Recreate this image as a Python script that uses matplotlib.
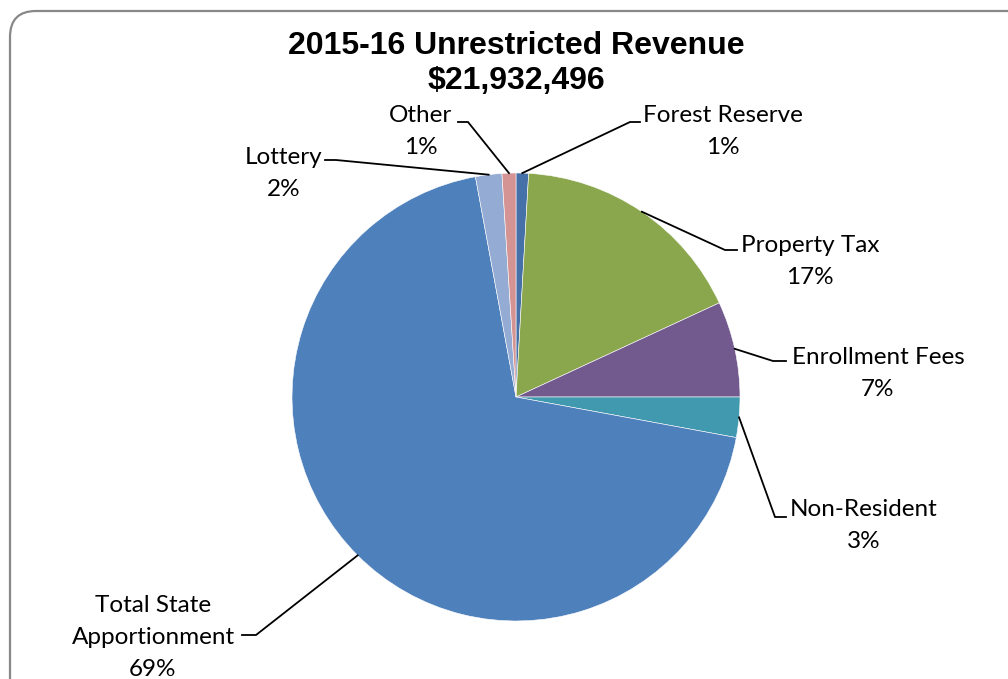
import matplotlib
matplotlib.use("Agg")
import matplotlib.pyplot as plt
from matplotlib.patches import FancyBboxPatch
import numpy as np

# slice data, clockwise from the top
sources = ["Forest Reserve", "Property Tax", "Enrollment Fees", "Non-Resident",
           "Total State\nApportionment", "Lottery", "Other"]
shares = [0.9, 17.2, 6.9, 2.9, 69.2, 1.9, 1.0]
pct_labels = ["1%", "17%", "7%", "3%", "69%", "2%", "1%"]
colors = ["#4571a8", "#8ba74e", "#725a8e", "#4099ae", "#4e80bc", "#94abd4", "#d39493"]

W, H = 1008, 679
fig = plt.figure(figsize=(W / 100, H / 100), dpi=100)
ax = fig.add_axes([0, 0, 1, 1])

cx, cy, r = 516, H - 397, 224
wedges, _ = ax.pie(shares, colors=colors, startangle=90, counterclock=False,
                   center=(cx, cy), radius=r, frame=True,
                   wedgeprops=dict(edgecolor="white", linewidth=0.4))
ax.set_xlim(0, W)
ax.set_ylim(0, H)
ax.set_aspect("equal")
ax.axis("off")

# label text center (x, y of first line) and elbow: (bend x, end x, y)
label_pos = [(723, 116), (810, 245), (878, 357), (864, 510), (153, 606), (284, 157), (421, 116)]
elbows = [(630, 640, 122), (725, 737, 250), (773, 786, 361), (775, 786, 517),
          (256, 242, 635), (336, 325, 160), (468, 458, 122)]

line_h = 32
lab_font = dict(family=["Lato", "DejaVu Sans"], fontsize=17.5, color="black")
for w, name, pct, (tx, ty), (bx, ex, ey) in zip(wedges, sources, pct_labels, label_pos, elbows):
    ang = np.deg2rad((w.theta1 + w.theta2) / 2)
    sx, sy = cx + r * np.cos(ang), cy + r * np.sin(ang)
    ax.plot([sx, bx, ex], [sy, H - ey, H - ey], color="black", lw=1.3,
            solid_joinstyle="miter")
    lines = (name + "\n" + pct).split("\n")
    for i, s in enumerate(lines):
        ax.text(tx, H - ty - i * line_h, s, ha="center", va="center", **lab_font)

ax.text(516, H - 46, "2015-16 Unrestricted Revenue", ha="center", va="center",
        family="Liberation Sans", fontweight="bold", fontsize=23)
ax.text(516, H - 81, "$21,932,496", ha="center", va="center",
        family="Liberation Sans", fontweight="bold", fontsize=23)

# rounded chart border
border = FancyBboxPatch((10, -40), 1040, H - 10 + 40 - 1,
                        boxstyle="round,pad=0,rounding_size=26",
                        fill=False, edgecolor="#888888", lw=1.6, clip_on=False)
ax.add_patch(border)

fig.savefig("out.png", dpi=100)
